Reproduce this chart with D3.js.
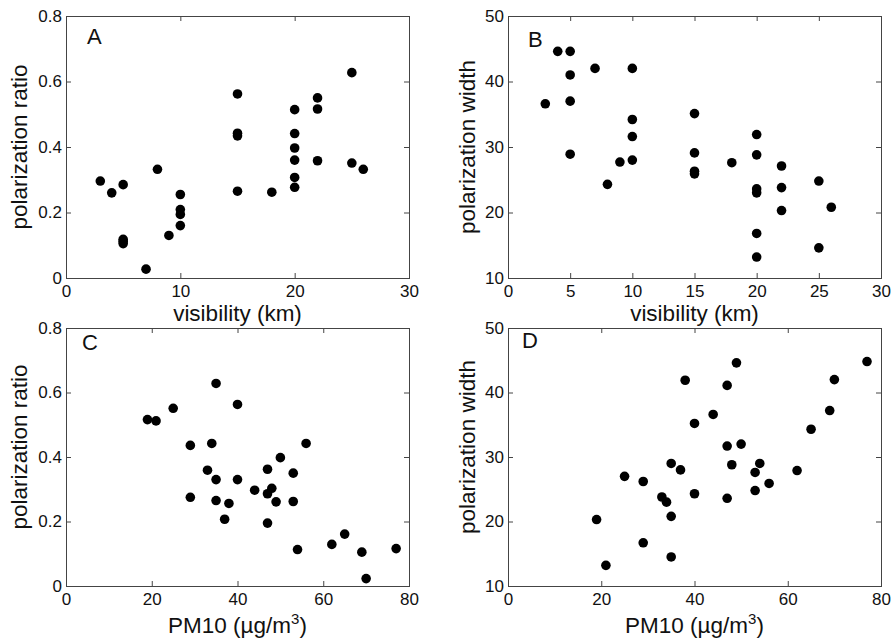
<!DOCTYPE html>
<html>
<head>
<meta charset="utf-8">
<script src="https://cdn.jsdelivr.net/npm/d3@7"></script>
<style>
  body { margin: 0; background: #fff; }
  svg { display: block; }
  text { font-family: "Liberation Sans", Arial, Helvetica, sans-serif; fill: #111; }
</style>
</head>
<body>
<svg id="chart" width="892" height="644"></svg>
<script>
// visibility (km) for panels A and B
const visibility = [3, 4, 5, 5, 5, 5, 7, 8, 9, 10, 10, 10, 10, 15, 15, 15, 15, 18,
  20, 20, 20, 20, 20, 20, 22, 22, 22, 25, 25, 26];
const ratioA = [0.296, 0.260, 0.285, 0.118, 0.112, 0.105, 0.027, 0.332, 0.130, 0.255, 0.209, 0.194, 0.160,
  0.562, 0.442, 0.434, 0.265, 0.262, 0.514, 0.441, 0.397, 0.360, 0.307, 0.277, 0.550, 0.516, 0.358,
  0.627, 0.351, 0.332];
const widthB = [36.6, 44.6, 44.6, 41.0, 37.0, 28.9, 42.0, 24.3, 27.7, 42.0, 34.2, 31.6, 28.0,
  35.1, 29.1, 26.3, 25.9, 27.6, 31.9, 28.8, 23.6, 23.0, 16.8, 13.2, 27.1, 23.8, 20.3,
  24.8, 14.6, 20.8];

// PM10 (ug/m3) for panels C and D
const pm10 = [19, 21, 25, 29, 29, 33, 34, 35, 35, 35, 37, 38, 40, 40, 44, 47, 47, 47, 48, 49,
  50, 53, 53, 54, 56, 62, 65, 69, 70, 77];
const ratioC = [0.516, 0.512, 0.551, 0.436, 0.275, 0.359, 0.442, 0.628, 0.330, 0.265, 0.207, 0.256,
  0.563, 0.330, 0.297, 0.362, 0.286, 0.195, 0.303, 0.261, 0.398, 0.350, 0.262, 0.113, 0.442,
  0.129, 0.161, 0.105, 0.023, 0.116];
const widthD = [20.3, 13.2, 27.0, 26.2, 16.7, 23.8, 23.0, 29.0, 20.8, 14.5, 28.0, 41.9, 35.2, 24.3,
  36.6, 41.1, 31.7, 23.6, 28.8, 44.6, 32.0, 27.6, 24.8, 29.0, 25.9, 27.9, 34.3, 37.2, 42.0, 44.8];

const visTicksA = [0, 10, 20, 30];
const visTicksB = [0, 5, 10, 15, 20, 25, 30];
const pmTicks = [0, 20, 40, 60, 80];
const ratioTicks = [0, 0.2, 0.4, 0.6, 0.8];
const widthTicks = [10, 20, 30, 40, 50];

const svg = d3.select('#chart');

const panels = [
  { tag: 'A', xs: visibility, ys: ratioA, xDom: [0, 30], yDom: [0, 0.8], xT: visTicksA, yT: ratioTicks,
    box: [66, 409, 16, 278], xLab: 'visibility (km)', yLab: 'polarization ratio',
    tagPos: [87, 44], xLabY: 321, yLabX: 27, yLabY: 147 },
  { tag: 'B', xs: visibility, ys: widthB, xDom: [0, 30], yDom: [10, 50], xT: visTicksB, yT: widthTicks,
    box: [508, 881, 16, 278], xLab: 'visibility (km)', yLab: 'polarization width',
    tagPos: [528, 47], xLabY: 321, yLabX: 474.5, yLabY: 147 },
  { tag: 'C', xs: pm10, ys: ratioC, xDom: [0, 80], yDom: [0, 0.8], xT: pmTicks, yT: ratioTicks,
    box: [66, 409, 328, 586], xLab: 'pm', yLab: 'polarization ratio',
    tagPos: [82, 350], xLabY: 633, yLabX: 27, yLabY: 447 },
  { tag: 'D', xs: pm10, ys: widthD, xDom: [0, 80], yDom: [10, 50], xT: pmTicks, yT: widthTicks,
    box: [508, 881, 328, 586], xLab: 'pm', yLab: 'polarization width',
    tagPos: [522, 348], xLabY: 633, yLabX: 474.5, yLabY: 447 }
];

const tickFont = '17px';
const labelFont = '22.5px';

panels.forEach(p => {
  const [x0, x1, y0, y1] = p.box;
  const x = d3.scaleLinear().domain(p.xDom).range([x0, x1]);
  const y = d3.scaleLinear().domain(p.yDom).range([y1, y0]);
  const g = svg.append('g');

  // ticks point inward on all four sides, like a matlab box
  const bottom = g.append('g').attr('transform', `translate(0,${y1})`)
    .call(d3.axisBottom(x).tickValues(p.xT).tickFormat(d => d).tickSizeInner(-5).tickSizeOuter(0).tickPadding(7));
  const left = g.append('g').attr('transform', `translate(${x0},0)`)
    .call(d3.axisLeft(y).tickValues(p.yT).tickFormat(d => d).tickSizeInner(-5).tickSizeOuter(0).tickPadding(4));
  const top = g.append('g').attr('transform', `translate(0,${y0})`)
    .call(d3.axisTop(x).tickValues(p.xT).tickFormat('').tickSizeInner(-5).tickSizeOuter(0));
  const right = g.append('g').attr('transform', `translate(${x1},0)`)
    .call(d3.axisRight(y).tickValues(p.yT).tickFormat('').tickSizeInner(-5).tickSizeOuter(0));

  [bottom, left, top, right].forEach(a => {
    a.select('.domain').remove();
    a.selectAll('line').attr('stroke', '#444');
    a.selectAll('text').style('font-size', tickFont).attr('fill', '#111')
      .style('font-family', '"Liberation Sans", Arial, sans-serif');
  });

  g.append('rect')
    .attr('x', x0 + 0.5).attr('y', y0 + 0.5)
    .attr('width', x1 - x0).attr('height', y1 - y0)
    .attr('fill', 'none').attr('stroke', '#444').attr('stroke-width', 1);

  g.selectAll('circle.pt').data(p.xs.map((v, i) => [v, p.ys[i]]))
    .join('circle')
    .attr('class', 'pt')
    .attr('cx', d => x(d[0]))
    .attr('cy', d => y(d[1]))
    .attr('r', 4.8)
    .attr('fill', '#000');

  g.append('text')
    .attr('x', p.tagPos[0]).attr('y', p.tagPos[1])
    .style('font-size', '22px')
    .text(p.tag);

  const xl = g.append('text')
    .attr('x', (x0 + x1) / 2).attr('y', p.xLabY)
    .attr('text-anchor', 'middle')
    .style('font-size', labelFont);
  if (p.xLab === 'pm') {
    xl.append('tspan').text('PM10 (\u00b5g/m');
    xl.append('tspan').attr('dy', -9).style('font-size', '15px').text('3');
    xl.append('tspan').attr('dy', 9).text(')');
  } else {
    xl.text(p.xLab);
  }

  g.append('text')
    .attr('transform', `translate(${p.yLabX},${p.yLabY}) rotate(-90)`)
    .attr('text-anchor', 'middle')
    .style('font-size', labelFont)
    .text(p.yLab);
});
</script>
</body>
</html>
